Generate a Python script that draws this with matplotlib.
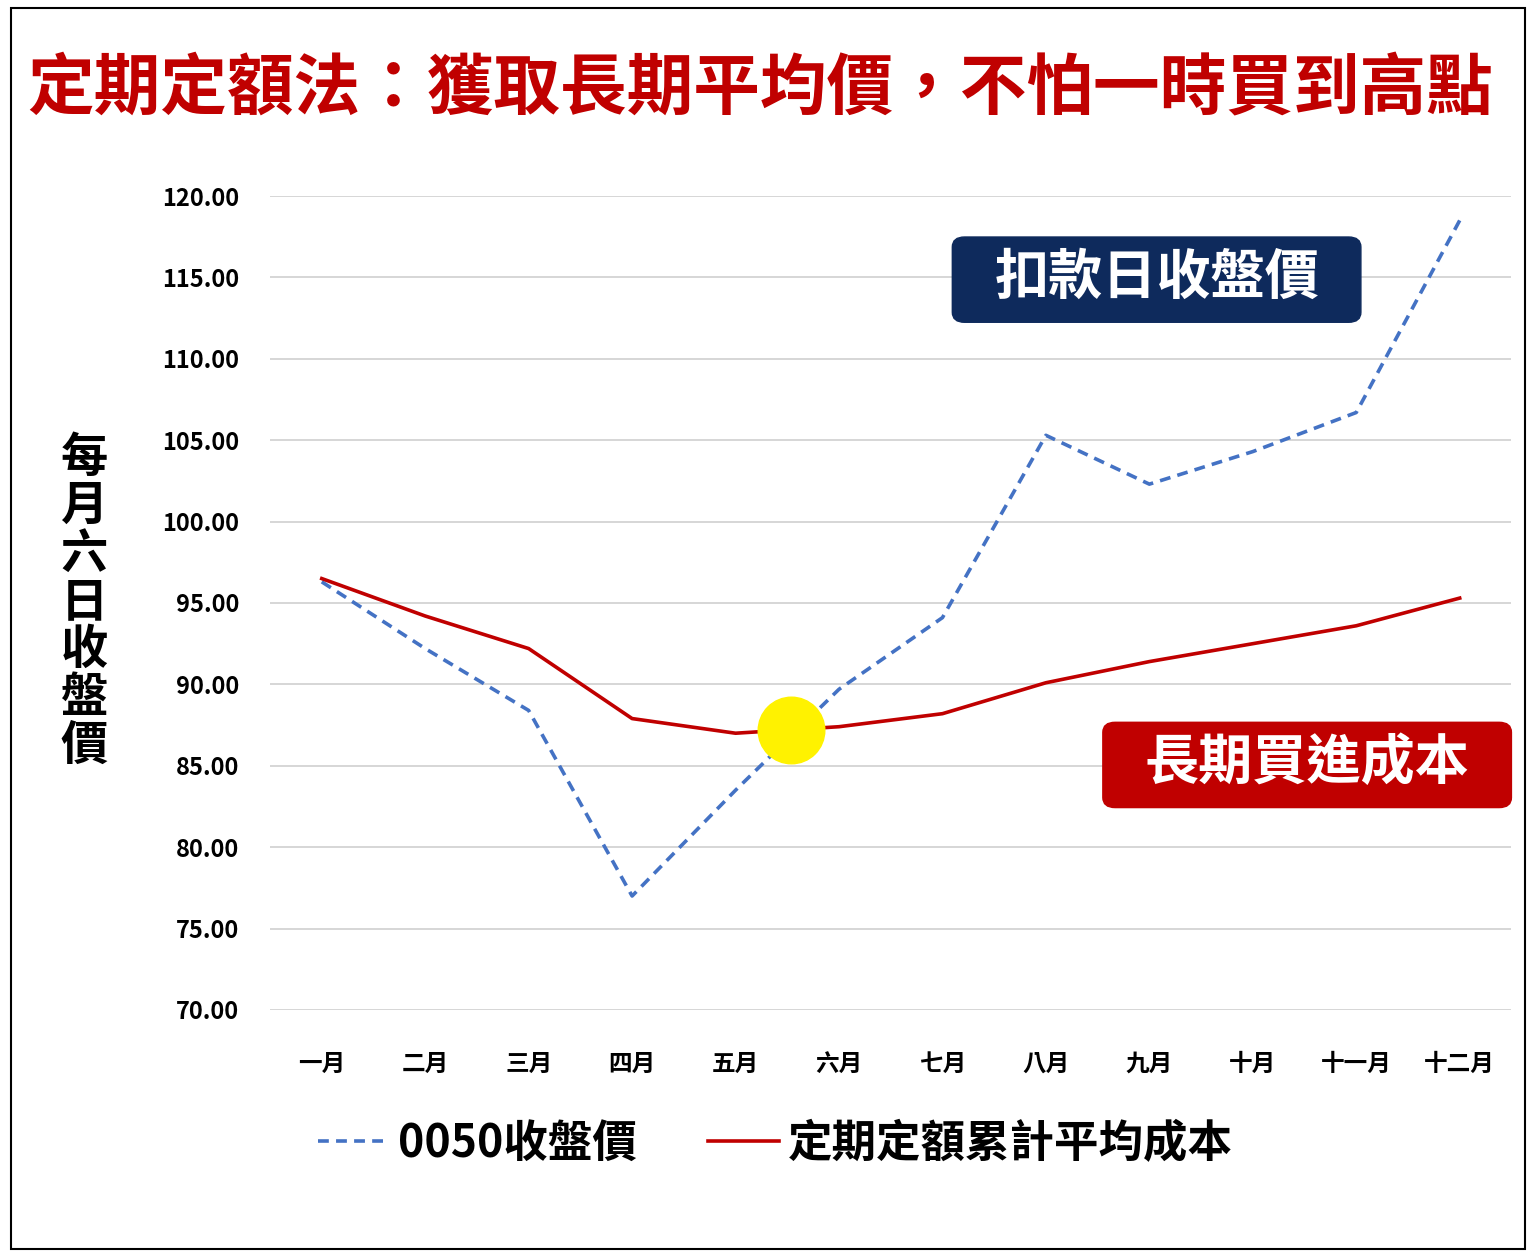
import matplotlib
matplotlib.use("Agg")
import matplotlib.pyplot as plt
from matplotlib.patches import Rectangle, FancyBboxPatch
from matplotlib.lines import Line2D

plt.rcParams['font.family'] = ['Noto Sans CJK TC', 'DejaVu Sans']

months = ["一月","二月","三月","四月","五月","六月","七月","八月","九月","十月","十一月","十二月"]
price = [96.3, 92.2, 88.4, 77.0, 83.5, 89.7, 94.1, 105.3, 102.3, 104.3, 106.7, 118.5]
avg_cost = [96.5, 94.2, 92.2, 87.9, 87.0, 87.4, 88.2, 90.1, 91.4, 92.5, 93.6, 95.3]
yticks = [70, 75, 80, 85, 90, 95, 100, 105, 110, 115, 120]

fig = plt.figure(figsize=(15.36, 12.54), dpi=100)
fig.patches.append(Rectangle((0.007, 0.004), 0.986, 0.99, transform=fig.transFigure,
                             fill=False, edgecolor='black', linewidth=1.5))
ax = fig.add_axes([0.1758, 0.1946, 0.8082, 0.6491])
x = list(range(len(months)))
ax.plot(x, price, color='#4472C4', linestyle=(0, (3, 2)), linewidth=2.6)
ax.plot(x, avg_cost, color='#C00000', linewidth=2.6)
ax.scatter([4.54], [87.2], s=2300, color='#FFF200', zorder=5)
ax.set_xlim(-0.5, 11.5)
ax.set_ylim(70, 120)
ax.set_yticks(yticks)
ax.set_yticklabels([f"{v:.2f}" for v in yticks], fontsize=17, fontweight='bold')
ax.set_xticks(x)
ax.set_xticklabels(months, fontsize=17, fontweight='bold')
ax.tick_params(axis='y', length=0, pad=22)
ax.tick_params(axis='x', length=0, pad=30)
ax.grid(axis='y', color='#D0D0D0', linewidth=1.2)
ax.set_axisbelow(True)
for s in ax.spines.values():
    s.set_visible(False)

fig.text(0.018, 0.928, "定期定額法：獲取長期平均價，不怕一時買到高點", color='#C00000',
         fontsize=48, fontweight='bold', va='center', ha='left')
fig.text(0.055, 0.52, "\n".join("每月六日收盤價"), fontsize=34, fontweight='bold',
         ha='center', va='center', linespacing=1.0)

fig.patches.append(FancyBboxPatch((0.620, 0.743), 0.266, 0.068, transform=fig.transFigure,
                   boxstyle="round,pad=0,rounding_size=0.008", color='#0E2A5C'))
fig.text(0.753, 0.778, "扣款日收盤價", color='white', fontsize=39, fontweight='bold',
         ha='center', va='center')
fig.patches.append(FancyBboxPatch((0.718, 0.356), 0.266, 0.068, transform=fig.transFigure,
                   boxstyle="round,pad=0,rounding_size=0.008", color='#C00000'))
fig.text(0.851, 0.391, "長期買進成本", color='white', fontsize=39, fontweight='bold',
         ha='center', va='center')

handles = [Line2D([], [], color='#4472C4', linestyle=(0, (3, 2)), linewidth=2.6),
           Line2D([], [], color='#C00000', linewidth=2.6)]
leg = fig.legend(handles, ["0050收盤價", "定期定額累計平均成本"], loc='center',
                 bbox_to_anchor=(0.505, 0.088), ncol=2, frameon=False,
                 prop={'size': 32, 'weight': 'bold'}, handlelength=1.6,
                 handletextpad=0.2, columnspacing=1.6)
fig.savefig("out.png", dpi=100)
